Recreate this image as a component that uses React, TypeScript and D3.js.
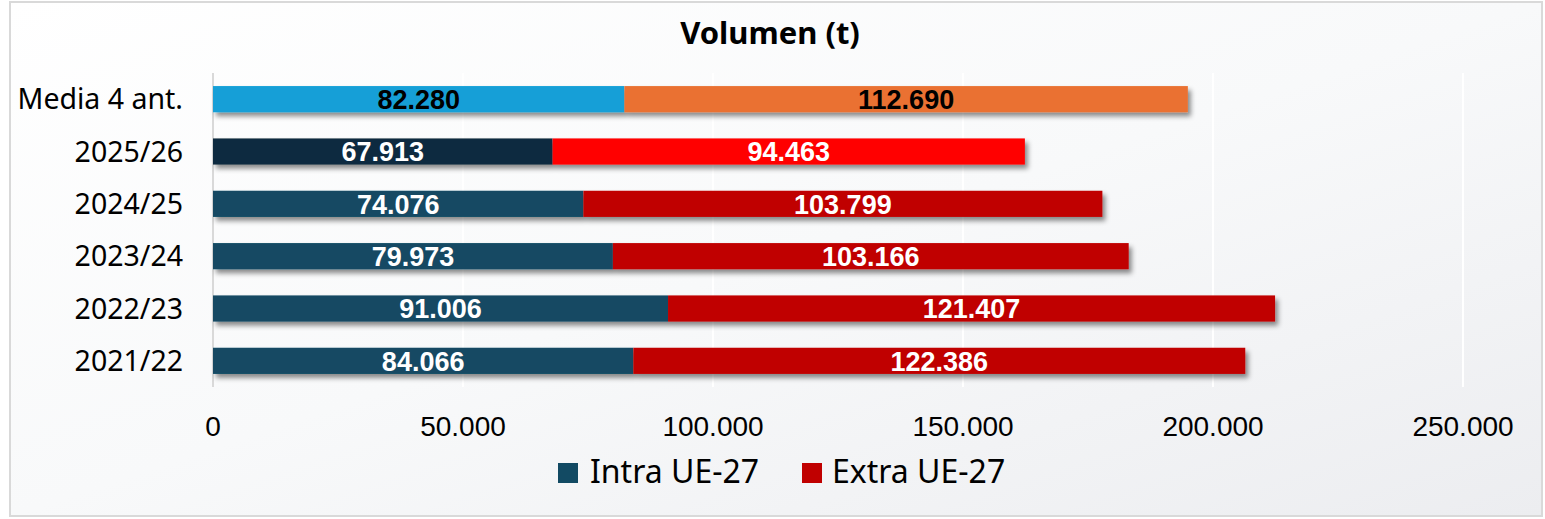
import React from 'react';
import * as d3 from 'd3';

const categories = ['Media 4 ant.', '2025/26', '2024/25', '2023/24', '2022/23', '2021/22'];
const intraValues = [82280, 67913, 74076, 79973, 91006, 84066];
const extraValues = [112690, 94463, 103799, 103166, 121407, 122386];
const xTicks = [0, 50000, 100000, 150000, 200000, 250000];
const seriesNames = ['Intra UE-27', 'Extra UE-27'];

// colores por fila (la media y la campaña actual van resaltadas)
const intraColors = ['#129FD7', '#0E2C40', '#124A63', '#124A63', '#124A63', '#124A63'];
const extraColors = ['#EA7132', '#FF0000', '#C00000', '#C00000', '#C00000', '#C00000'];
const labelColors = ['#000000', '#FFFFFF', '#FFFFFF', '#FFFFFF', '#FFFFFF', '#FFFFFF'];
const legendColors = ['#124A63', '#C00000'];

const W = 1545;
const H = 519;
const margin = { top: 73, right: 82, bottom: 132, left: 213 };

const esLocale = d3.formatLocale({ decimal: ',', thousands: '.', grouping: [3], currency: ['', '€'] });
const fmt = esLocale.format(',d');

const App = () => {
  const x = d3.scaleLinear().domain([0, 250000]).range([margin.left, W - margin.right]);
  const y = d3
    .scaleBand<string>()
    .domain(categories)
    .range([margin.top, H - margin.bottom])
    .paddingInner(0.5)
    .paddingOuter(0.25);
  const bw = y.bandwidth();

  const labelFont = '"Noto Sans", "Open Sans", sans-serif';
  const numFont = '"Liberation Sans", Arial, sans-serif';

  return (
    <svg width={W} height={H} style={{ position: 'fixed', left: 0, top: 0, display: 'block' }}>
      <defs>
        <linearGradient id="bg" x1="0" y1="0" x2="1" y2="1">
          <stop offset="0" stopColor="#FFFFFF" />
          <stop offset="0.5" stopColor="#F8F9FA" />
          <stop offset="1" stopColor="#ECEDF0" />
        </linearGradient>
        <filter id="shadow" x="-5%" y="-40%" width="110%" height="200%">
          <feDropShadow dx="3" dy="4" stdDeviation="2.5" floodColor="#000" floodOpacity="0.45" />
        </filter>
      </defs>

      {/* fondo y borde */}
      <rect x={10} y={2} width={W - 13} height={H - 5} fill="url(#bg)" stroke="#D9D9D9" strokeWidth={2} />

      {/* título */}
      <text x={770} y={44} textAnchor="middle" fontFamily={labelFont} fontWeight="bold" fontSize={31} fill="#000">
        Volumen (t)
      </text>

      {/* rejilla */}
      {xTicks.slice(1).map(t => (
        <line key={t} x1={x(t)} x2={x(t)} y1={margin.top} y2={H - margin.bottom} stroke="#FFFFFF" strokeWidth={2} />
      ))}
      <line x1={x(0)} x2={x(0)} y1={margin.top} y2={H - margin.bottom} stroke="#D9D9D9" strokeWidth={2} />

      {/* barras apiladas */}
      {categories.map((c, i) => {
        const y0 = y(c) as number;
        const a = intraValues[i];
        const b = extraValues[i];
        return (
          <g key={c}>
            <g filter="url(#shadow)">
              <rect x={x(0)} y={y0} width={x(a) - x(0)} height={bw} fill={intraColors[i]} />
              <rect x={x(a)} y={y0} width={x(a + b) - x(a)} height={bw} fill={extraColors[i]} />
            </g>
            <text
              x={(x(0) + x(a)) / 2}
              y={y0 + bw / 2}
              dy="0.36em"
              textAnchor="middle"
              fontFamily={numFont}
              fontWeight="bold"
              fontSize={27}
              fill={labelColors[i]}
            >
              {fmt(a)}
            </text>
            <text
              x={(x(a) + x(a + b)) / 2}
              y={y0 + bw / 2}
              dy="0.36em"
              textAnchor="middle"
              fontFamily={numFont}
              fontWeight="bold"
              fontSize={27}
              fill={labelColors[i]}
            >
              {fmt(b)}
            </text>
            <text
              x={183}
              y={y0 + bw / 2}
              dy="0.36em"
              textAnchor="end"
              fontFamily={labelFont}
              fontSize={28.5}
              fill="#000"
            >
              {c}
            </text>
          </g>
        );
      })}

      {/* eje x */}
      {xTicks.map(t => (
        <text key={t} x={x(t)} y={436} textAnchor="middle" fontFamily={numFont} fontSize={28} fill="#000">
          {fmt(t)}
        </text>
      ))}

      {/* leyenda */}
      <rect x={558} y={463} width={20} height={20} fill={legendColors[0]} />
      <text x={590} y={483} fontFamily={labelFont} fontSize={32} fill="#000">
        {seriesNames[0]}
      </text>
      <rect x={802} y={463} width={20} height={20} fill={legendColors[1]} />
      <text x={832} y={483} fontFamily={labelFont} fontSize={32} fill="#000">
        {seriesNames[1]}
      </text>
    </svg>
  );
};

export default App;
